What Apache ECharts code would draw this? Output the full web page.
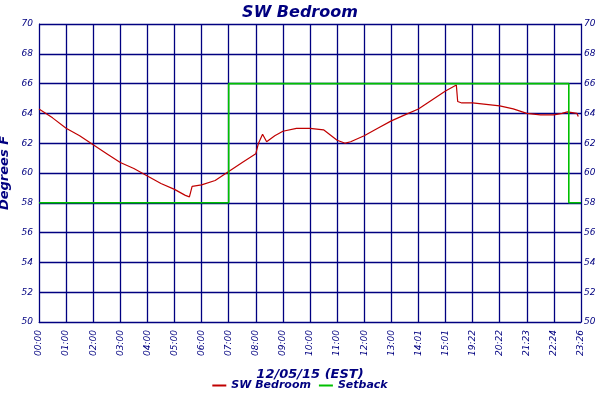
<!DOCTYPE html><html><head><meta charset="utf-8">
<script src="https://cdn.jsdelivr.net/npm/echarts@6/dist/echarts.min.js"></script>
<style>html,body{margin:0;background:#fff}#c{width:600px;height:400px}</style></head><body><div id="c"></div>
<script>
const xLabels=['00:00','01:00','02:00','03:00','04:00','05:00','06:00','07:00','08:00','09:00','10:00','11:00','12:00','13:00','14:01','15:01','19:22','20:22','21:23','22:24','23:26'];
const tempX=[0,0.5,1,1.5,2,2.5,3,3.5,4,4.5,5,5.4,5.55,5.6,5.65,6,6.5,7,7.5,8,8.1,8.25,8.4,8.7,9,9.5,10,10.5,11,11.3,11.5,12,12.5,13,13.5,14,14.5,15,15.4,15.45,15.6,16,16.5,17,17.5,18,18.5,19,19.3,19.5,19.85,19.9];
const tempY=[64.3,63.7,63.0,62.5,61.9,61.3,60.7,60.3,59.8,59.3,58.9,58.5,58.4,58.4,59.1,59.2,59.5,60.1,60.7,61.3,62.0,62.6,62.1,62.5,62.8,63.0,63.0,62.9,62.2,62.0,62.1,62.5,63.0,63.5,63.9,64.3,64.9,65.5,65.9,64.8,64.7,64.7,64.6,64.5,64.3,64.0,63.9,63.9,64.0,64.1,64.0,63.8];
const setX=[0,7,7,7,19.55,19.55,19.55,20];
const setY=[58,58,62,66,66,62,58,58];
const navy='#000080';
const ch=echarts.init(document.getElementById('c'));
const f="'DejaVu Sans'";
ch.setOption({
 backgroundColor:'#fff',
 title:{text:'SW Bedroom',left:'center',top:0,textStyle:{color:navy,fontSize:16,fontStyle:'italic',fontWeight:'bold',fontFamily:f}},
 legend:{bottom:4,left:'center',itemWidth:14,itemHeight:2,icon:'rect',textStyle:{color:navy,fontStyle:'italic',fontWeight:'bold',fontSize:11,fontFamily:f},data:['SW Bedroom','Setback']},
 grid:{left:39,right:19,top:24,bottom:78,outerBoundsMode:'none',containLabel:false},
 xAxis:{type:'value',min:0,max:20,interval:1,name:'12/05/15 (EST)',nameLocation:'middle',nameGap:46,
  nameTextStyle:{color:navy,fontSize:13,fontStyle:'italic',fontWeight:'bold',fontFamily:f},
  axisLine:{lineStyle:{color:navy}},axisTick:{show:false},
  axisLabel:{rotate:90,color:navy,fontSize:9,fontStyle:'italic',fontFamily:f,formatter:v=>xLabels[Math.round(v)]},
  splitLine:{lineStyle:{color:navy,width:1.3}}},
 yAxis:[{type:'value',min:50,max:70,interval:2,name:'Degrees F',nameLocation:'middle',nameGap:26,
  nameTextStyle:{color:navy,fontSize:13,fontStyle:'italic',fontWeight:'bold',fontFamily:f},
  axisLine:{show:true,lineStyle:{color:navy}},axisTick:{show:false},
  axisLabel:{color:navy,fontSize:9,fontStyle:'italic',fontFamily:f,margin:6},
  splitLine:{lineStyle:{color:navy,width:1.3}}},
  {type:'value',min:50,max:70,interval:2,position:'right',axisLine:{show:true,lineStyle:{color:navy}},axisTick:{show:false},
  axisLabel:{color:navy,fontSize:9,fontStyle:'italic',fontFamily:f,margin:3},splitLine:{show:false}}],
 series:[
  {name:'SW Bedroom',type:'line',symbol:'none',data:tempX.map((x,i)=>[x,tempY[i]]),lineStyle:{color:'#c00000',width:1.2},itemStyle:{color:'#c00000'}},
  {name:'Setback',type:'line',symbol:'none',data:setX.map((x,i)=>[x,setY[i]]),lineStyle:{color:'#00c000',width:1.6},itemStyle:{color:'#00c000'}}
 ]
});
</script></body></html>
